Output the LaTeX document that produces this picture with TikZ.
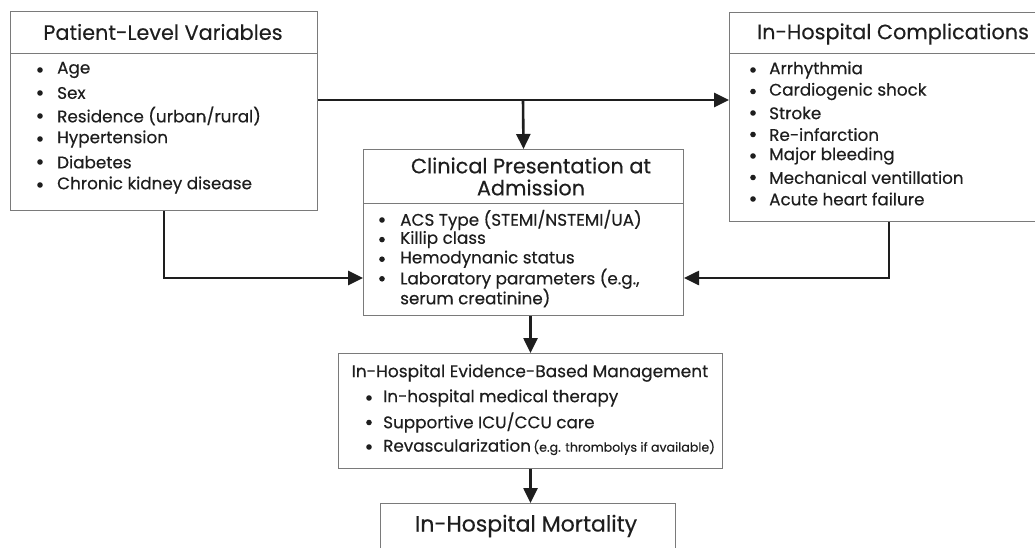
\documentclass[tikz,border=0pt]{standalone}
\usepackage{fontspec}
\setmainfont{Poppins}[FakeBold=0.3]
\usetikzlibrary{arrows.meta}

\definecolor{ink}{HTML}{1E1E1E}
\definecolor{rim}{HTML}{7A7A7A}
\tikzset{
  box/.style={draw=rim, line width=1pt, anchor=north west, inner sep=0pt},
  head/.style={font=\fontsize{20.8}{25}\selectfont, text=ink},
  item/.style={anchor=west, font=\fontsize{16.8}{20}\selectfont, text=ink, inner sep=0pt},
  flow/.style={line width=2.6pt, draw=ink, -{Triangle[length=15pt,width=14pt]}},
}

\begin{document}
\begin{tikzpicture}[x=1pt,y=-1pt]
      \useasboundingbox[fill=white] (0,0) rectangle (1035,548) ;
      % patient-level variables
      \node[box,minimum width=307pt,minimum height=199pt] (pat) at (10,11) {} ;
      \draw[rim] (pat.north west) ++(0,42) -- ++(307,0) ;
      \node[head] (patT) at (163,32) {Patient-Level Variables} ;
      \foreach \t [count=\i] in {Age,Sex,Residence (urban/rural),Hypertension,Diabetes,Chronic kidney disease}
        {\fill[ink] (40,{70+23*(\i-1)}) circle (2.8pt) ;
         \node[item] at (57,{70+23*(\i-1)}) {\t} ;}
      % in-hospital complications
      \node[box,minimum width=328pt,minimum height=209pt] (comp) at (729,12) {} ;
      \draw[rim] (comp.north west) ++(0,41) -- ++(328,0) ;
      \node[head] (compT) at (893,34) {In-Hospital Complications} ;
      \foreach \t [count=\i] in {Arrhythmia,Cardiogenic shock,Stroke,Re-infarction,Major bleeding,Mechanical ventillation,Acute heart failure}
        {\fill[ink] (753,{70+21.5*(\i-1)}) circle (2.8pt) ;
         \node[item] at (769,{70+21.5*(\i-1)}) {\t} ;}
      % clinical presentation
      \node[box,minimum width=320pt,minimum height=166pt] (clin) at (363,149) {} ;
      \draw[rim] (clin.north west) ++(0,54) -- ++(320,0) ;
      \node[head,align=center] (clinT) at (531,176.5) {Clinical Presentation at\\[-3pt]Admission} ;
      \foreach \t [count=\i] in {ACS Type (STEMI/NSTEMI/UA),Killip class,Hemodynanic status,{Laboratory parameters (e.g.,}}
        {\fill[ink] (382,{220+19.6*(\i-1)}) circle (2.8pt) ;
         \node[item] at (400,{220+19.6*(\i-1)}) {\t} ;}
      \node[item] (clinX) at (400,298) {serum creatinine)} ;
      % management
      \node[box,minimum width=384pt,minimum height=115pt] (mgmt) at (338,353) {} ;
      \node[head,font=\fontsize{17}{20}\selectfont] (mgmtT) at (530,373) {In-Hospital Evidence-Based Management} ;
      \foreach \t [count=\i] in {In-hospital medical therapy,Supportive ICU/CCU care,Revascularization\hspace{-2pt} {\fontsize{12.6}{15}\selectfont(e.g. thrombolys if available)}}
        {\fill[ink] (369,{398+24.5*(\i-1)}) circle (2.8pt) ;
         \node[item] at (383,{398+24.5*(\i-1)}) {\t} ;}
      % mortality
      \node[box,minimum width=295pt,minimum height=60pt] (mort) at (380,503) {} ;
      \node[head,font=\fontsize{22}{26}\selectfont] (mortT) at (526,526) {In-Hospital Mortality} ;
      % connectors
      \coordinate (fork) at (523,100) ;
      \coordinate (lvl) at (0,278) ;
      \draw[flow] (pat.east |- fork) -- (comp.west |- fork) ;
      \draw[flow] (fork) -- (clin.north) ;
      \draw[flow] (pat.south) |- (clin.west |- lvl) ;
      \draw[flow] (comp.south -| 889,0) |- (clin.east |- lvl) ;
      \draw[flow] (mgmt.north |- clin.south) -- (mgmt.north) ;
      \draw[flow] (mgmt.south) -- (mort.north -| mgmt.south) ;
    \end{tikzpicture}
\end{document}
